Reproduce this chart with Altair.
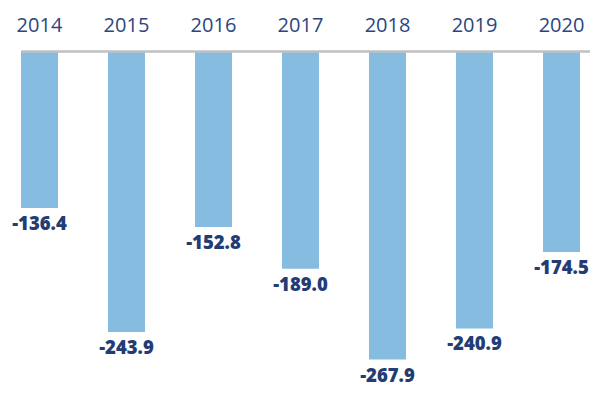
import altair as alt
import pandas as pd

years = ["2014", "2015", "2016", "2017", "2018", "2019", "2020"]
values = [-136.4, -243.9, -152.8, -189.0, -267.9, -240.9, -174.5]
labels = ["-136.4", "-243.9", "-152.8", "-189.0", "-267.9", "-240.9", "-174.5"]

df = pd.DataFrame({"year": years, "value": values, "label": labels})

NAVY = "#233d74"
BAR = "#85bce0"

x = alt.X(
    "year:N",
    sort=years,
    title=None,
    scale=alt.Scale(paddingInner=0.575, paddingOuter=0.0575, align=0),
    axis=alt.Axis(
        orient="top",
        labelAngle=0,
        ticks=False,
        tickSize=0,
        grid=False,
        labelPadding=20,
        labelBaseline="alphabetic",
        labelFont="Open Sans",
        labelFontSize=20,
        labelColor="#2b4680",
        domain=True,
        domainColor="#c0c0c0",
        domainWidth=2.5,
        zindex=1,
    ),
)
y = alt.Y("value:Q", scale=alt.Scale(domain=[-303, 0], nice=False, zero=True), axis=None)

bars = alt.Chart(df).mark_bar(color=BAR).encode(x=x, y=y, y2=alt.datum(0))
text = alt.Chart(df).mark_text(
    baseline="top", align="center", dy=7, font="Open Sans", fontWeight=800,
    fontSize=18.5, color=NAVY
).encode(x=alt.X("year:N", sort=years), y=y, text="label:N")

chart = (bars + text).properties(
    width=569, height=349,
    background="white",
    autosize=alt.AutoSizeParams(type="none"),
    padding={"left": 21, "top": 51, "right": 0, "bottom": 0},
).configure_view(strokeWidth=0, stroke="transparent")

chart.save("out.html", embed_options={"renderer": "svg", "actions": False})
